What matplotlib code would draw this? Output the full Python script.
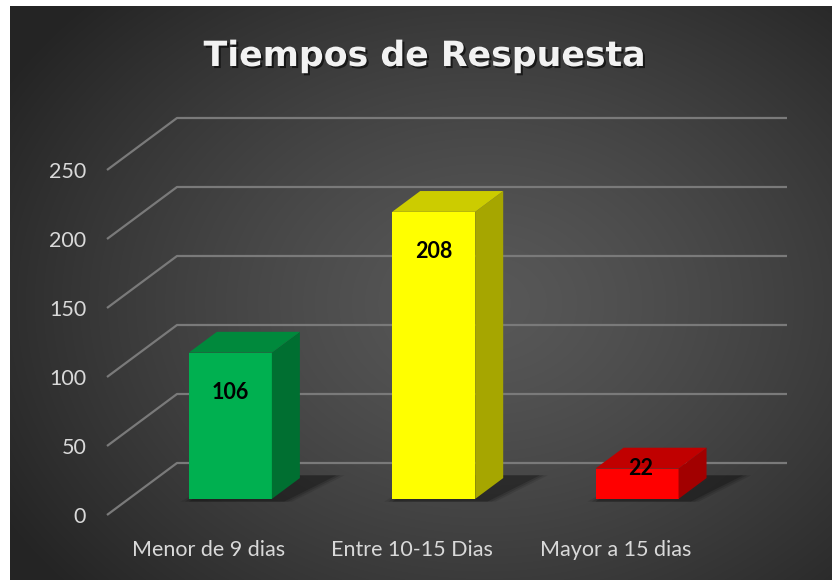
import numpy as np
import matplotlib
matplotlib.use("Agg")
import matplotlib.pyplot as plt
from matplotlib.patches import Polygon
import matplotlib.patheffects as pe

# ---- data ----
categories = ["Menor de 9 dias", "Entre 10-15 Dias", "Mayor a 15 dias"]
values = [106, 208, 22]
yticks = [0, 50, 100, 150, 200, 250]
title = "Tiempos de Respuesta"

# ---- styles ----
front_colors = ["#00B050", "#FFFF00", "#FF0000"]
top_colors = ["#00893C", "#CCCC00", "#C00000"]
side_colors = ["#006F31", "#A6A600", "#A20000"]

W_PX, H_PX, DPI = 832, 580, 100
fig = plt.figure(figsize=(W_PX / DPI, H_PX / DPI), dpi=DPI, facecolor="white")

# background with radial gradient
bg = fig.add_axes([0, 0, 1, 1])
bg.set_xlim(0, W_PX)
bg.set_ylim(H_PX, 0)
bg.axis("off")
yy, xx = np.mgrid[0:H_PX, 0:W_PX]
r = np.sqrt(((xx - 480) / 560.0) ** 2 + ((yy - 300) / 430.0) ** 2)
r = np.clip(r, 0, 1)
c0, c1 = 0.345, 0.145
img = c0 + (c1 - c0) * r ** 1.3
bg.imshow(np.dstack([img, img, img]), extent=(10, W_PX, H_PX, 6), aspect="auto",
          interpolation="bilinear", zorder=0)
bg.set_xlim(0, W_PX)
bg.set_ylim(H_PX, 0)

# main axes = front plane of the 3D box
ax_l, ax_r, ax_t, ax_b = 107, 717, 170, 515
ax = fig.add_axes([ax_l / W_PX, (H_PX - ax_b) / H_PX,
                   (ax_r - ax_l) / W_PX, (ax_b - ax_t) / H_PX])
ax.set_facecolor("none")
n = len(categories)
ax.set_xlim(-0.5, n - 0.5)
ax.set_ylim(0, 250)
for s in ax.spines.values():
    s.set_visible(False)

# depth vector (pixels -> data units)
px_per_x = (ax_r - ax_l) / n
px_per_y = (ax_b - ax_t) / 250.0
DX = 70 / px_per_x
DY = 52 / px_per_y

grid_color = "#7a7a7a"
for v in yticks:
    ax.plot([-0.5, -0.5 + DX, n - 0.5 + DX], [v, v + DY, v + DY],
            color=grid_color, lw=1.6, clip_on=False, zorder=1,
            solid_capstyle="butt")

ax.set_yticks(yticks)
ax.set_yticklabels([str(t) for t in yticks])
ax.set_xticks(range(n))
ax.set_xticklabels(categories)
ax.tick_params(axis="both", length=0, labelcolor="#d9d9d9", labelsize=15.5)
ax.tick_params(axis="y", pad=15)
ax.tick_params(axis="x", pad=18)
for lab in ax.get_xticklabels() + ax.get_yticklabels():
    lab.set_fontfamily("Lato")

# bars
f0, f1 = 0.31, 0.71
bw = 83 / px_per_x
xs = np.arange(n)
fx = xs + f0 * DX
ddx, ddy = (f1 - f0) * DX, (f1 - f0) * DY

# shadows on floor
for i, v in enumerate(values):
    xl, xr = fx[i] - bw / 2, fx[i] + bw / 2
    for k, a in enumerate([0.10, 0.14, 0.2]):
        grow = (2 - k) * 0.02
        poly = [(xl - grow, f0 * DY - 2),
                (xr + 0.06 + grow, f0 * DY - 2),
                (xr + 0.06 + ddx + 0.12 + grow, f1 * DY + 2),
                (xl + ddx + 0.05, f1 * DY + 2)]
        ax.add_patch(Polygon(poly, closed=True, facecolor="black", alpha=a,
                             edgecolor="none", clip_on=False, zorder=2))

ax.bar(fx, values, width=bw, bottom=f0 * DY, color=front_colors,
       edgecolor="none", zorder=4, clip_on=False)
for i, v in enumerate(values):
    xl, xr = fx[i] - bw / 2, fx[i] + bw / 2
    yb, yt = f0 * DY, f0 * DY + v
    side = [(xr, yb), (xr + ddx, yb + ddy), (xr + ddx, yt + ddy), (xr, yt)]
    top = [(xl, yt), (xr, yt), (xr + ddx, yt + ddy), (xl + ddx, yt + ddy)]
    ax.add_patch(Polygon(side, closed=True, facecolor=side_colors[i],
                         edgecolor="none", clip_on=False, zorder=4))
    ax.add_patch(Polygon(top, closed=True, facecolor=top_colors[i],
                         edgecolor="none", clip_on=False, zorder=4))
    ly = yt - 29 if v > 56 else yt
    ax.text(fx[i] + (0.02 if v <= 56 else 0.0), ly, str(v), ha="center",
            va="center", fontsize=15.5, fontweight="bold", family="Lato",
            color="black", zorder=6)

# title
fig.text(424.5 / W_PX, (H_PX - 66) / H_PX, title, ha="center", va="baseline",
         fontsize=25, fontweight="bold", family="DejaVu Sans", color="#f2f2f2",
         path_effects=[pe.SimplePatchShadow(offset=(1.5, -1.5),
                                            shadow_rgbFace="black", alpha=0.6),
                       pe.Normal()])

fig.savefig("out.png", dpi=DPI, facecolor="white")
